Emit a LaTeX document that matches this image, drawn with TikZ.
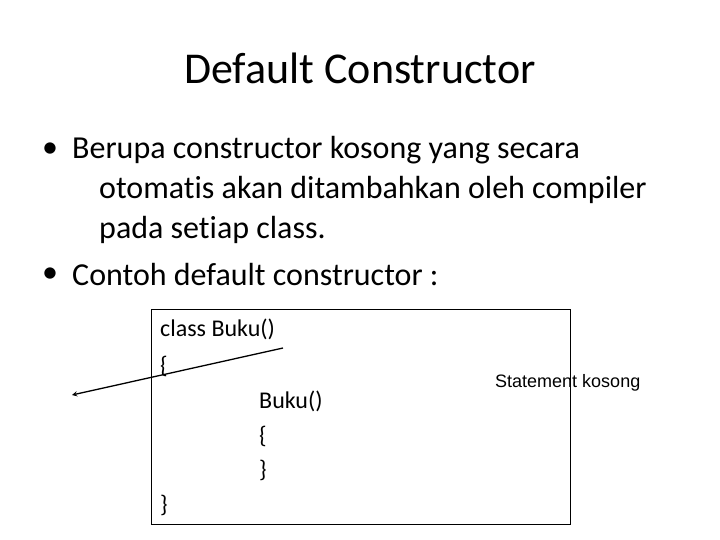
\documentclass[tikz,border=0pt]{standalone}
\usepackage{fontspec}
\setmainfont[Ligatures=NoCommon]{Carlito}
\newfontfamily\arialf{Liberation Sans}
\begin{document}
\begin{tikzpicture}[x=1pt,y=-1pt,
  txt/.style={anchor=west,inner sep=0pt,font=\fontsize{32}{36}\selectfont},
  code/.style={anchor=west,inner sep=0pt,font=\fontsize{24}{28}\selectfont}]
\useasboundingbox (0,0) rectangle (720,540);
\node[inner sep=0pt,font=\fontsize{44}{50}\selectfont] (title) at (360,68) {Default Constructor};
\node[txt] (b1) at (42,150) {•};
\node[txt] (l1) at (72,150) {Berupa constructor kosong yang secara};
\node[txt] (l2) at (99,190) {otomatis akan ditambahkan oleh compiler};
\node[txt] (l3) at (99,230) {pada setiap class.};
\node[txt] (b2) at (42,275) {•};
\node[txt] (l4) at (72,275) {Contoh default constructor :};
\node[draw,thick,minimum width=419,minimum height=215,anchor=north west,inner sep=0pt] (box) at (151,309) {};
\node[code] (c1) at (160,329) {class Buku()};
\node[code] (c2) at (160,366) {\{};
\node[code] (c3) at (259,401) {Buku()};
\node[code] (c4) at (259,436) {\{};
\node[code] (c5) at (259,470) {\}};
\node[code] (c6) at (160,505) {\}};
\node[anchor=west,inner sep=0pt,font=\arialf\fontsize{18}{20}\selectfont] (st) at (495,383) {Statement kosong};
\coordinate (a1) at (283,348);
\coordinate (a2) at (72,395);
\draw[line width=1.3pt,-stealth] (a1) -- (a2);
\end{tikzpicture}
\end{document}
